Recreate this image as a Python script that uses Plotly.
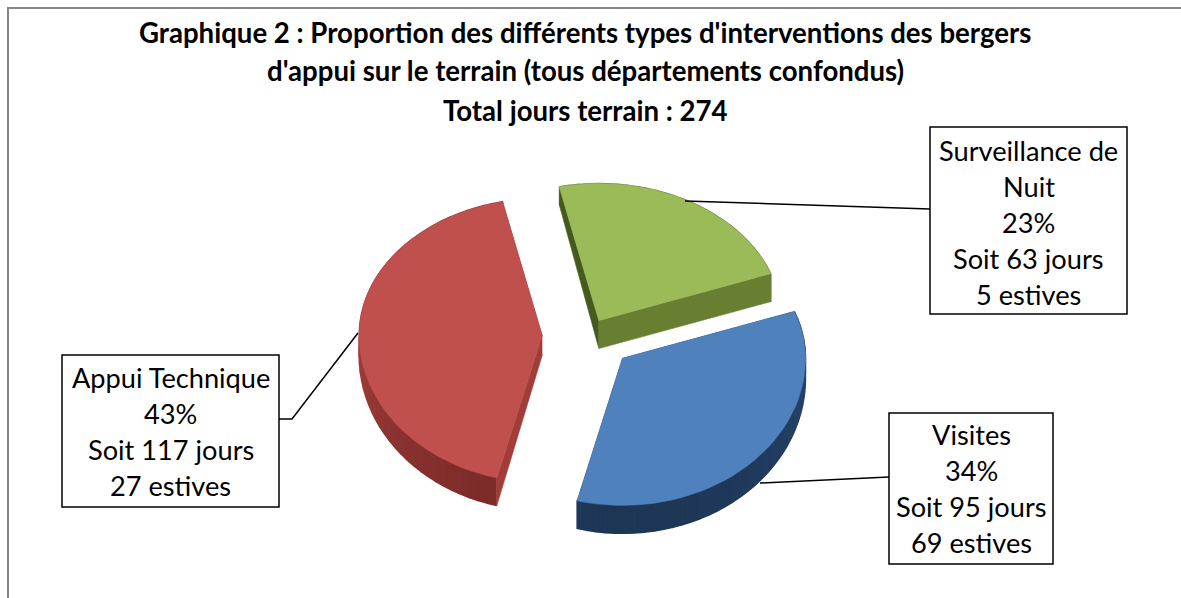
import math
import plotly.graph_objects as go

# ---- data ----
categories = ["Surveillance de Nuit", "Visites", "Appui Technique"]
label_lines = [["Surveillance de", "Nuit"], ["Visites"], ["Appui Technique"]]
days = [63, 95, 117]
percents = [23, 34, 43]
estives = [5, 69, 27]
title_lines = [
    "Graphique 2 : Proportion des différents types d'interventions des bergers",
    "d'appui sur le terrain (tous départements confondus)",
    "Total jours terrain : 274",
]

# ---- styling / geometry of the tilted pie ----
W, H = 1181, 598
CX, CY = 589, 334
RX, RY_BACK, RY_FRONT = 183, 137, 147
START_DEG = 102.5
PULL = [0.112, 0.247, 0.256]
NUDGE_Y = [0, 0, 2]
TOP = ["#9bbb59", "#4f81bd", "#c0504d"]
OUTER = [("#6f8735", "#6a8030"), ("#25436d", "#1e3655"), ("#a33d3a", "#7b2b29")]
FACE_A = ["#465a1d", "#1f3a5f", "#a23c39"]
FACE_B = ["#687f32", "#1f3a5f", "#a23c39"]
DEPTH = [(18, 28), (20, 28), (20, 28)]
FONT = "Lato"
SIZE = 27.2
TITLE_SIZE = 27.6
LINE = 36
BOXES = [(930, 127, 1127, 314), (889, 413, 1053, 564), (62, 355, 279, 507)]
TEXT_DY = [2, 0, 0]
LEADERS = [[(685, 201), (930, 209)], [(760, 483), (889, 477)], [(358, 333), (292, 419), (279, 419)]]


def project(i, r, t, apex):
    u, v = r * math.cos(t), r * math.sin(t)
    return apex[0] + RX * u, apex[1] - v * (RY_BACK if v > 0 else RY_FRONT)


def depth(i, t):
    v = math.sin(t)
    lo, hi = DEPTH[i]
    if i == 0:
        f = max(0.0, min(1.0, (0.97 - v) / 0.61))
        return lo + (hi - lo) * f
    f = max(0.0, min(1.0, -v))
    return lo + (hi - lo) * f


def mix(a, b, f):
    ca = [int(a[k:k + 2], 16) for k in (1, 3, 5)]
    cb = [int(b[k:k + 2], 16) for k in (1, 3, 5)]
    return "#" + "".join(f"{round(x + (y - x) * f):02x}" for x, y in zip(ca, cb))


def poly(xs, ys, color, width=0.6):
    return go.Scatter(x=xs, y=ys, mode="lines", fill="toself", fillcolor=color,
                      line=dict(color=color, width=width), hoverinfo="skip", showlegend=False)


total = sum(days)
fig = go.Figure()
ang = START_DEG
for i, val in enumerate(days):
    a0 = math.radians(ang)
    a1 = math.radians(ang - 360 * val / total)
    ang -= 360 * val / total
    mid = (a0 + a1) / 2
    ax = CX + PULL[i] * RX * math.cos(mid)
    ay = CY - PULL[i] * (RY_BACK if math.sin(mid) > 0 else RY_FRONT) * math.sin(mid) + NUDGE_Y[i]
    apex = (ax, ay)
    n = max(8, int(abs(a1 - a0) / math.radians(3)))
    ts = [a0 + (a1 - a0) * k / n for k in range(n + 1)]
    rim = [project(i, 1, t, apex) for t in ts]

    # flat cut faces
    d0, d1 = depth(i, a0), depth(i, a1)
    dap = DEPTH[i][0] if i else DEPTH[i][1]
    # outer rim wall
    for k in range(n):
        x0, y0 = rim[k]
        x1, y1 = rim[k + 1]
        tm = (ts[k] + ts[k + 1]) / 2
        f = max(0.0, min(1.0, -math.sin(tm)))
        c = mix(OUTER[i][0], OUTER[i][1], f)
        fig.add_trace(poly([x0, x1, x1, x0], [y0, y1, y1 + depth(i, ts[k + 1]), y0 + depth(i, ts[k])], c, 1.4))
    fig.add_trace(poly([ax, rim[0][0], rim[0][0], ax], [ay, rim[0][1], rim[0][1] + d0, ay + dap], FACE_A[i]))
    fig.add_trace(poly([ax, rim[-1][0], rim[-1][0], ax], [ay, rim[-1][1], rim[-1][1] + d1, ay + dap], FACE_B[i]))
    # top surface
    fig.add_trace(poly([ax] + [p[0] for p in rim] + [ax], [ay] + [p[1] for p in rim] + [ay], TOP[i]))

shapes = [dict(type="path", path=f"M 8 {H} L 8 8 L {W} 8", xref="x", yref="y",
               line=dict(color="#868686", width=2))]
for pts in LEADERS:
    shapes.append(dict(type="path", path="M " + " L ".join(f"{x} {y}" for x, y in pts),
                       xref="x", yref="y", line=dict(color="#000000", width=1.5)))
for x0, y0, x1, y1 in BOXES:
    shapes.append(dict(type="rect", x0=x0, y0=y0, x1=x1, y1=y1, xref="x", yref="y",
                       line=dict(color="#000000", width=1.5), fillcolor="#ffffff"))

anns = []
for y, t in zip((32, 70, 110), title_lines):
    anns.append(dict(x=585, y=y, xref="x", yref="y", text=f"<b>{t}</b>", showarrow=False,
                     font=dict(family=FONT, size=TITLE_SIZE, color="#000000")))
for i in range(3):
    lines = label_lines[i] + [f"{percents[i]}%", f"Soit {days[i]} jours", f"{estives[i]} estives"]
    x0, y0, x1, y1 = BOXES[i]
    mid_y = (y0 + y1) / 2 + TEXT_DY[i]
    for k, t in enumerate(lines):
        anns.append(dict(x=(x0 + x1) / 2, y=mid_y + (k - (len(lines) - 1) / 2) * LINE, xref="x", yref="y",
                         text=t, showarrow=False, font=dict(family=FONT, size=SIZE, color="#000000")))

fig.update_layout(
    width=W, height=H, margin=dict(l=0, r=0, t=0, b=0),
    paper_bgcolor="#ffffff", plot_bgcolor="#ffffff", showlegend=False,
    xaxis=dict(range=[0, W], visible=False, fixedrange=True),
    yaxis=dict(range=[H, 0], visible=False, fixedrange=True),
    shapes=shapes, annotations=anns,
)
fig.write_html("out.html", config={"displayModeBar": False},
               post_script="document.body.style.margin='0';document.body.style.overflow='hidden';")
